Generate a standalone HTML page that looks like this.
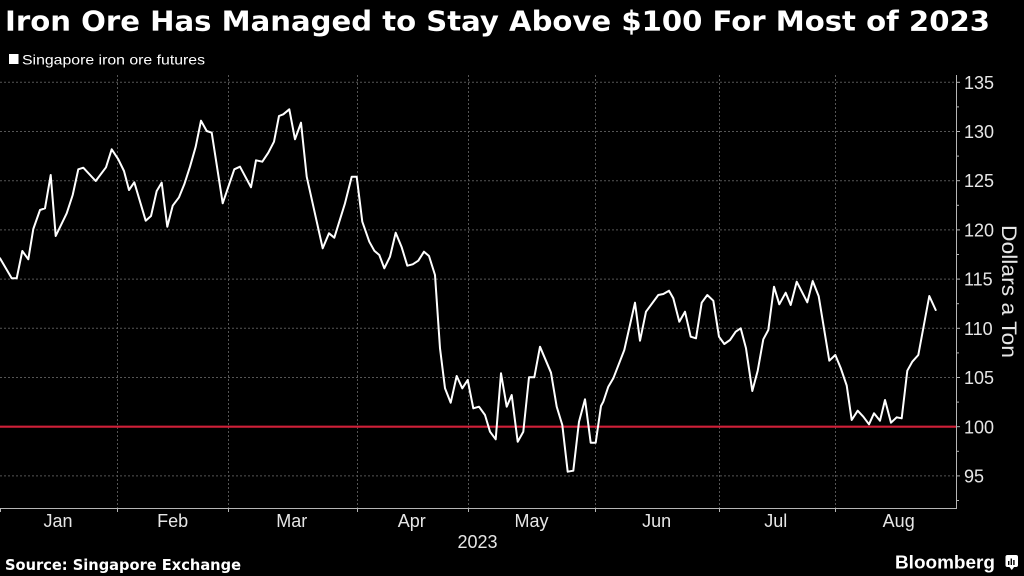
<!DOCTYPE html>
<html>
<head>
<meta charset="utf-8">
<style>
html,body{margin:0;padding:0;background:#000;}
svg{display:block;}
</style>
</head>
<body>
<svg width="1024" height="576" viewBox="0 0 1024 576" xmlns="http://www.w3.org/2000/svg">
<rect x="0" y="0" width="1024" height="576" fill="#000"/>
<text x="5" y="30.5" font-family="DejaVu Sans, Liberation Sans, sans-serif" font-weight="bold" font-size="27.5" fill="#fff" textLength="985" lengthAdjust="spacingAndGlyphs">Iron Ore Has Managed to Stay Above $100 For Most of 2023</text>
<rect x="9" y="54" width="9.5" height="10" fill="#fff"/>
<text x="22" y="64.5" font-family="Liberation Sans, sans-serif" font-size="14" fill="#fff" textLength="183" lengthAdjust="spacingAndGlyphs">Singapore iron ore futures</text>
<g stroke="#555" stroke-width="1" stroke-dasharray="2,2" fill="none">
<line x1="0" y1="82.3" x2="956" y2="82.3"/>
<line x1="0" y1="131.5" x2="956" y2="131.5"/>
<line x1="0" y1="180.7" x2="956" y2="180.7"/>
<line x1="0" y1="229.9" x2="956" y2="229.9"/>
<line x1="0" y1="279.1" x2="956" y2="279.1"/>
<line x1="0" y1="328.3" x2="956" y2="328.3"/>
<line x1="0" y1="377.5" x2="956" y2="377.5"/>
<line x1="0" y1="475.9" x2="956" y2="475.9"/>
<line x1="117.5" y1="75" x2="117.5" y2="508"/>
<line x1="228.5" y1="75" x2="228.5" y2="508"/>
<line x1="357.5" y1="75" x2="357.5" y2="508"/>
<line x1="468.5" y1="75" x2="468.5" y2="508"/>
<line x1="595.5" y1="75" x2="595.5" y2="508"/>
<line x1="719.5" y1="75" x2="719.5" y2="508"/>
<line x1="835.5" y1="75" x2="835.5" y2="508"/>
</g>
<line x1="0" y1="426.7" x2="956" y2="426.7" stroke="#cf2039" stroke-width="2.2"/>
<g stroke="#b5b5b5" stroke-width="1" fill="none">
<line x1="956.5" y1="75" x2="956.5" y2="508.5"/>
<line x1="0" y1="508.5" x2="957" y2="508.5"/>
<line x1="0.5" y1="508" x2="0.5" y2="512"/>
<line x1="117.5" y1="508" x2="117.5" y2="512"/>
<line x1="228.5" y1="508" x2="228.5" y2="512"/>
<line x1="357.5" y1="508" x2="357.5" y2="512"/>
<line x1="468.5" y1="508" x2="468.5" y2="512"/>
<line x1="595.5" y1="508" x2="595.5" y2="512"/>
<line x1="719.5" y1="508" x2="719.5" y2="512"/>
<line x1="835.5" y1="508" x2="835.5" y2="512"/>
<line x1="956" y1="82.3" x2="960" y2="82.3"/>
<line x1="956" y1="106.9" x2="959" y2="106.9"/>
<line x1="956" y1="131.5" x2="960" y2="131.5"/>
<line x1="956" y1="156.1" x2="959" y2="156.1"/>
<line x1="956" y1="180.7" x2="960" y2="180.7"/>
<line x1="956" y1="205.3" x2="959" y2="205.3"/>
<line x1="956" y1="229.9" x2="960" y2="229.9"/>
<line x1="956" y1="254.5" x2="959" y2="254.5"/>
<line x1="956" y1="279.1" x2="960" y2="279.1"/>
<line x1="956" y1="303.7" x2="959" y2="303.7"/>
<line x1="956" y1="328.3" x2="960" y2="328.3"/>
<line x1="956" y1="352.9" x2="959" y2="352.9"/>
<line x1="956" y1="377.5" x2="960" y2="377.5"/>
<line x1="956" y1="402.1" x2="959" y2="402.1"/>
<line x1="956" y1="426.7" x2="960" y2="426.7"/>
<line x1="956" y1="451.3" x2="959" y2="451.3"/>
<line x1="956" y1="475.9" x2="960" y2="475.9"/>
<line x1="956" y1="500.5" x2="959" y2="500.5"/>
</g>
<g font-family="Liberation Sans, sans-serif" font-size="18" fill="#e6e6e6">
<text x="964" y="89">135</text>
<text x="964" y="138">130</text>
<text x="964" y="187">125</text>
<text x="964" y="236.5">120</text>
<text x="964" y="285.5">115</text>
<text x="964" y="335">110</text>
<text x="964" y="384">105</text>
<text x="964" y="433.5">100</text>
<text x="964" y="482.5">95</text>
</g>
<text transform="translate(1002,291.5) rotate(90)" x="0" y="0" text-anchor="middle" font-family="Liberation Sans, sans-serif" font-size="21" fill="#e6e6e6" textLength="133" lengthAdjust="spacingAndGlyphs">Dollars a Ton</text>
<g font-family="Liberation Sans, sans-serif" font-size="18" fill="#e6e6e6" text-anchor="middle">
<text x="58" y="527">Jan</text>
<text x="172.7" y="527">Feb</text>
<text x="291.8" y="527">Mar</text>
<text x="411.7" y="527">Apr</text>
<text x="531.5" y="527">May</text>
<text x="656.7" y="527">Jun</text>
<text x="775.7" y="527">Jul</text>
<text x="898.7" y="527">Aug</text>
<text x="477.5" y="548">2023</text>
</g>
<polyline fill="none" stroke="#fff" stroke-width="2" stroke-linejoin="round" stroke-linecap="round" points="
0,258.3 11.7,278.3 16.7,278.3 22.3,251 28.3,259.3 33.3,229 40,210 45,208.3 50.7,175 55.7,236 66.7,213.3 72.7,195 78.3,169.3 83.3,167.7 95.7,181 106,167.3 111.7,149.3 118.3,159.3 124,171 129,190 134.3,182.3 145.7,220.7 151,216 156.7,191 161.7,182.7 167.3,226.7 172.7,205.7 179,197.3 184.3,184.3 190,166.7 195.7,146.7 201,120.7 206.7,131 211.7,132.7 222.7,203.3 234.3,169.3 240,166.7 251,187.3 256,160.3 262.3,161.7 268.3,152.7 274,141.7 279,116 283.3,114.3 289.3,109.3 295,139.3 301,122.7 306.7,176.7 322.7,248.3 329,233.3 334.3,237.7 345,203.3 351.7,176.7 356.7,176.7 362.3,221.7 369.3,241.7 374.3,250.7 379.3,255 384.3,268.3 390,256.7 395.7,232.7 401.7,247.3 407.3,265.7 412.7,264.3 418.3,260.7 424,251.7 429,256 435,275 440,348.3 445,388.3 450.7,402.7 456.7,376 462.3,388.3 467.7,380 473.3,408.3 479,406.7 485,415 490,431.7 495.7,439.3 501,373.3 506.7,406.7 511.7,395 517.7,441.7 523.3,431.7 529,377.3 534.3,377.3 540,346.7 551,372.7 556.7,406.7 562.3,425 567.7,471.7 573.3,470.7 579,421.7 585,399.3 590.7,442.7 595.7,442.7 601,406 603.3,401.7 608.3,386.7 613.3,378.3 624.3,350 635,302.7 640,340.7 646,311.7 658.3,295 663.3,294 669,290.7 673.3,298.3 679.3,321.7 685,311.7 690.7,336.7 696,338.3 701.7,302.7 707.3,295 713.3,300.7 719,336.7 724.3,344 730,340 735.7,331.7 740.7,328.3 746,348.3 752.3,391 757.7,370.7 763.3,339.3 768.3,330 774,286.7 779.3,304.3 785.7,292.7 790.7,305 796.7,281.7 807.3,302.3 812.7,281 818.7,296.3 829.3,360.7 835.3,355 840.7,368 846.7,385.5 851.7,420 857.7,410.7 863.3,416.7 869,424.3 874,413.3 880,420.7 885,400 891,422.7 896.7,417.3 901.7,418.3 907.3,370.7 912.3,361.7 918.3,355 929.3,296 935.7,310"/>
<text x="5" y="570" font-family="DejaVu Sans, Liberation Sans, sans-serif" font-weight="bold" font-size="15" fill="#fff" textLength="236" lengthAdjust="spacingAndGlyphs">Source: Singapore Exchange</text>
<text x="895" y="568.5" font-family="Liberation Sans, sans-serif" font-weight="bold" font-size="18" fill="#fff" textLength="100" lengthAdjust="spacingAndGlyphs">Bloomberg</text>
<g>
<rect x="1005.5" y="555" width="12.5" height="12" rx="2" fill="#fff"/>
<polygon points="1009,566.5 1011.8,570 1014.5,566.5" fill="#fff"/>
<rect x="1008" y="561" width="1.4" height="4" fill="#000"/>
<rect x="1010.6" y="558.5" width="1.4" height="6.5" fill="#000"/>
<rect x="1013.2" y="560" width="1.4" height="5" fill="#000"/>
</g>
</svg>
</body>
</html>
